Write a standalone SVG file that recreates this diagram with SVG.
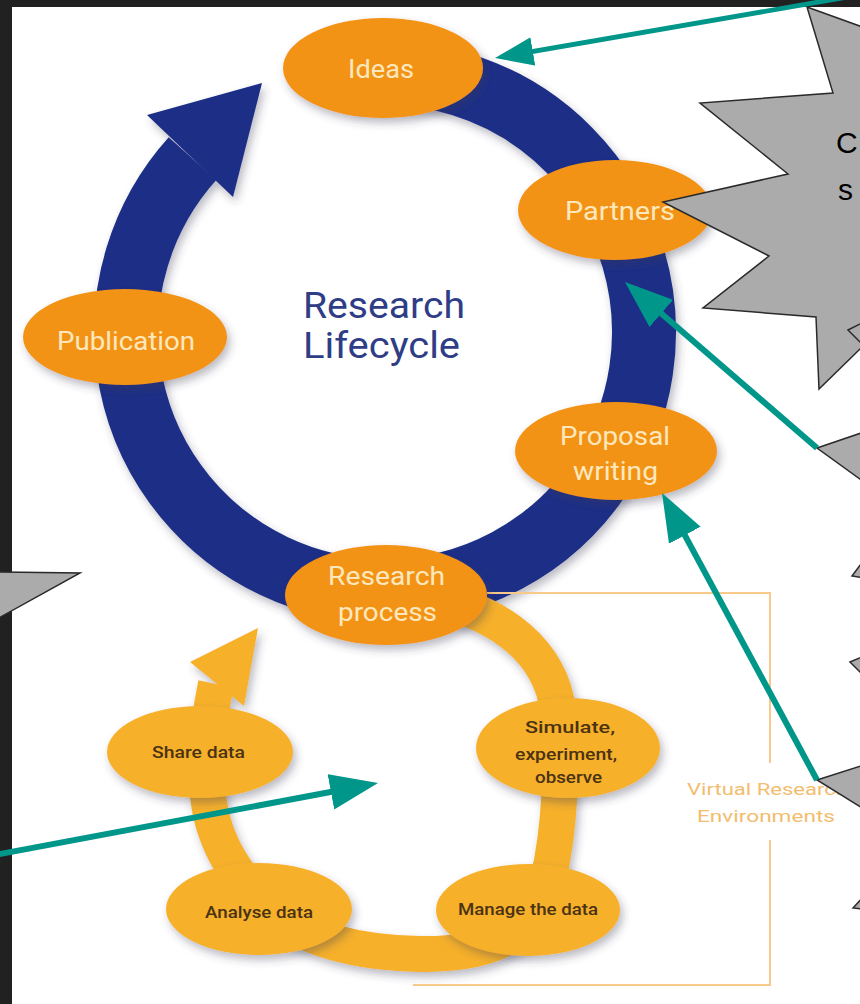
<svg xmlns="http://www.w3.org/2000/svg" width="860" height="1004" viewBox="0 0 860 1004">
<defs>
<filter id="sh" x="-20%" y="-20%" width="150%" height="160%"><feDropShadow dx="3" dy="5" stdDeviation="4" flood-color="#3a3a55" flood-opacity="0.35"/></filter>
<marker id="ah" viewBox="0 0 8 6" markerWidth="8" markerHeight="6" refX="6.5" refY="3" orient="auto" markerUnits="strokeWidth"><path d="M0,0 L8,3 L0,6 z" fill="#00978a"/></marker>
<style>
.up{fill:#f39318;filter:url(#sh)}
.lo{fill:#f6b02c;filter:url(#sh)}
.ut{font-family:Roboto,"Liberation Sans",sans-serif;font-size:25px;fill:#fde8bd;text-anchor:middle}
.lt{font-family:Roboto,"Liberation Sans",sans-serif;font-size:16.5px;fill:#4a3212;text-anchor:middle;font-weight:500}
.call{fill:#ababab;stroke:#2a2a2a;stroke-width:1.5}
.tl{fill:none;stroke:#00978a;marker-end:url(#ah)}
.vre{font-family:Roboto,"Liberation Sans",sans-serif;font-size:17px;fill:#f2bd6e}
</style>
</defs>
<rect x="0" y="0" width="860" height="1004" fill="#212121"/>
<rect x="12" y="7" width="848" height="997" fill="#ffffff"/>

<g id="cycles">
<g filter="url(#sh)">
<path d="M 348.95 75.5 A 259 259 0 1 1 192.5 158.7" fill="none" stroke="#1b2f86" stroke-width="64"/>
<polygon points="147,115 262,83 233,197" fill="#1b2f86"/>
</g>
<g filter="url(#sh)">
<path d="M 440,600 C 500,615 550,650 558,710 C 563,760 560,830 548,880 C 535,940 480,955 420,954 C 360,953 300,940 265,905 C 228,868 208,830 207,780 C 206,740 210,712 216,684" fill="none" stroke="#f6b02c" stroke-width="36"/>
<polygon points="190,662 258,628 244,706" fill="#f6b02c"/>
</g>
</g>

<g id="vre-box">
<path d="M 487,593 H 770 V 763 M 770,840 V 985 H 413" fill="none" stroke="#f7c98a" stroke-width="2"/>
<text class="vre" x="687" y="795" textLength="161" lengthAdjust="spacingAndGlyphs">Virtual Research</text>
<text class="vre" x="766" y="822" text-anchor="middle" textLength="138" lengthAdjust="spacingAndGlyphs">Environments</text>
</g>

<g id="title">
<text x="384" y="318" font-family="Roboto, 'Liberation Sans', sans-serif" font-size="36" fill="#2e3d85" text-anchor="middle" textLength="162" lengthAdjust="spacingAndGlyphs">Research</text>
<text x="381.5" y="358" font-family="Roboto, 'Liberation Sans', sans-serif" font-size="36" fill="#2e3d85" text-anchor="middle" textLength="157" lengthAdjust="spacingAndGlyphs">Lifecycle</text>
</g>

<g id="ideas"><ellipse class="up" cx="383" cy="68" rx="100" ry="50"/><text class="ut" x="381" y="78" textLength="66" lengthAdjust="spacingAndGlyphs">Ideas</text></g>
<g id="partners"><ellipse class="up" cx="615" cy="210" rx="97" ry="50"/><text class="ut" x="620" y="220" textLength="110" lengthAdjust="spacingAndGlyphs">Partners</text></g>
<g id="publication"><ellipse class="up" cx="125" cy="337" rx="102" ry="48"/><text class="ut" x="126" y="350" textLength="138" lengthAdjust="spacingAndGlyphs">Publication</text></g>
<g id="proposal"><ellipse class="up" cx="616" cy="451" rx="101" ry="49"/><text class="ut" x="615" y="445" textLength="110" lengthAdjust="spacingAndGlyphs">Proposal</text><text class="ut" x="615.5" y="480" textLength="85" lengthAdjust="spacingAndGlyphs">writing</text></g>
<g id="research-process"><ellipse class="up" cx="386" cy="595" rx="101" ry="50"/><text class="ut" x="386.5" y="585" textLength="117" lengthAdjust="spacingAndGlyphs">Research</text><text class="ut" x="387.5" y="621" textLength="99" lengthAdjust="spacingAndGlyphs">process</text></g>

<g id="share"><ellipse class="lo" cx="200" cy="752" rx="93" ry="46"/><text class="lt" x="198.5" y="758" textLength="93" lengthAdjust="spacingAndGlyphs">Share data</text></g>
<g id="analyse"><ellipse class="lo" cx="259" cy="909" rx="93" ry="46"/><text class="lt" x="259" y="918" textLength="108" lengthAdjust="spacingAndGlyphs">Analyse data</text></g>
<g id="manage"><ellipse class="lo" cx="528" cy="910" rx="92" ry="46"/><text class="lt" x="528" y="915" textLength="140" lengthAdjust="spacingAndGlyphs">Manage the data</text></g>
<g id="simulate"><ellipse class="lo" cx="568" cy="748" rx="92" ry="50"/><text class="lt" x="570" y="733" textLength="90" lengthAdjust="spacingAndGlyphs">Simulate,</text><text class="lt" x="566" y="760" textLength="102" lengthAdjust="spacingAndGlyphs">experiment,</text><text class="lt" x="568.5" y="783" textLength="67" lengthAdjust="spacingAndGlyphs">observe</text></g>

<g id="callouts">
<g id="star"><polygon class="call" points="807,7 833,93 700,103 788,174 663,202 769,256 703,308 816,317 819,389 862,347 890,340 890,37"/>
<polygon class="call" points="848,330 864,322 864,346"/>
<text x="836" y="153" font-family="'Liberation Sans', Arial, sans-serif" font-size="30" fill="#000">C</text>
<text x="838" y="200" font-family="'Liberation Sans', Arial, sans-serif" font-size="30" fill="#000">s</text></g>
<polygon id="callout-a" class="call" points="817,448 864,432 864,482"/>
<polygon id="callout-b" class="call" points="852,576 864,560 864,578"/>
<polygon id="callout-c" class="call" points="850,662 864,656 864,676"/>
<polygon id="callout-d" class="call" points="817,780 864,765 864,809"/>
<polygon id="callout-e" class="call" points="853,908 864,896 864,909"/>
<polygon id="callout-f" class="call" points="-5,572 80,573 -5,620"/>
</g>

<g id="connectors">
<line class="tl" x1="865" y1="-6" x2="502.1" y2="56.8" stroke-width="4.8"/>
<line class="tl" x1="817" y1="448" x2="631.8" y2="287.9" stroke-width="6"/>
<line class="tl" x1="817" y1="780" x2="666.3" y2="500.9" stroke-width="6"/>
<line class="tl" x1="-5" y1="855" x2="369.2" y2="784.7" stroke-width="6"/>
</g>
</svg>
